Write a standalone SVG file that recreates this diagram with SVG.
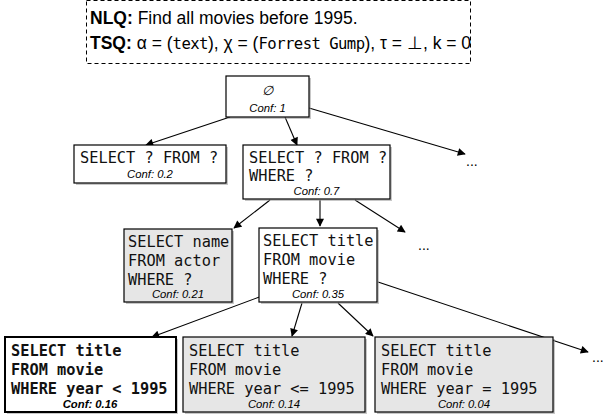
<svg xmlns="http://www.w3.org/2000/svg" width="605" height="417" viewBox="0 0 605 417">
<style>
.hdr{font-family:"Liberation Sans",Arial,sans-serif;font-size:17.5px;fill:#000}
.b{font-weight:bold}
.hm{font-family:"DejaVu Sans Mono",monospace;font-size:15.6px;letter-spacing:-0.55px}
.box{stroke:#000;stroke-width:1.2}
.w{fill:#fff}
.g{fill:#e6e6e6}
.sh{fill:#999;opacity:0.55}
.code{font-family:"DejaVu Sans Mono",monospace;font-size:15.3px;fill:#111}
.bold{font-weight:bold}
.conf{font-family:"Liberation Sans",Arial,sans-serif;font-style:italic;font-size:11.3px;fill:#000;text-anchor:middle}
.dots{font-family:"Liberation Sans",Arial,sans-serif;font-size:14px;fill:#000}
.edge{stroke:#000;stroke-width:1.1;fill:none;marker-end:url(#ah)}
</style>
<defs>
<marker id="ah" viewBox="0 0 10 10" refX="9" refY="5" markerWidth="10" markerHeight="8" markerUnits="userSpaceOnUse" orient="auto">
<path d="M0,0 L10,5 L0,10 z" fill="#000"/>
</marker>
</defs>
<g id="header">
<rect x="86.5" y="0.5" width="384" height="63" fill="#fff" stroke="#000" stroke-width="1" stroke-dasharray="4,3"/>
<text class="hdr" x="90" y="24"><tspan class="b">NLQ:</tspan> Find all movies before 1995.</text>
<text class="hdr" x="90" y="49"><tspan class="b">TSQ:</tspan> α = (<tspan class="hm">text</tspan>), χ = (<tspan class="hm">Forrest Gump</tspan>), τ = ⊥, k = 0</text>
</g>
<g id="connectors">
<line class="edge" x1="230" y1="117" x2="146" y2="145"/>
<line class="edge" x1="285" y1="117" x2="297" y2="145"/>
<line class="edge" x1="309" y1="108" x2="465" y2="154"/>
<line class="edge" x1="270" y1="200" x2="234" y2="228"/>
<line class="edge" x1="320" y1="200" x2="320" y2="226"/>
<line class="edge" x1="355" y1="200" x2="405" y2="232"/>
<line class="edge" x1="262" y1="296" x2="152" y2="337"/>
<line class="edge" x1="302" y1="303" x2="292" y2="336"/>
<line class="edge" x1="338" y1="303" x2="373" y2="336"/>
<line class="edge" x1="378" y1="282" x2="588" y2="352"/>
</g>
<g id="root">
<rect class="sh" x="228" y="78" width="83" height="41"/>
<rect class="box w" x="226" y="76" width="83" height="41"/>
<text x="267.5" y="95" class="conf" style="font-size:13px">∅</text>
<text x="267.5" y="112" class="conf">Conf: 1</text>
</g>
<g id="n1">
<rect class="sh" x="76" y="147" width="152" height="38"/>
<rect class="box w" x="74" y="145" width="152" height="38"/>
<text class="code" x="80" y="163">SELECT ? FROM ?</text>
<text class="conf" x="150" y="178">Conf: 0.2</text>
</g>
<g id="n2">
<rect class="sh" x="245" y="147" width="147" height="54"/>
<rect class="box w" x="243" y="145" width="147" height="54"/>
<text class="code" x="249" y="163">SELECT ? FROM ?</text>
<text class="code" x="249" y="181">WHERE ?</text>
<text class="conf" x="316.5" y="195">Conf: 0.7</text>
</g>
<text class="dots" x="466" y="166">...</text>
<g id="n3">
<rect class="sh" x="126" y="231" width="108" height="73"/>
<rect class="box g" x="124" y="229" width="108" height="73"/>
<text class="code" x="128" y="247">SELECT name</text>
<text class="code" x="128" y="266">FROM actor</text>
<text class="code" x="128" y="285">WHERE ?</text>
<text class="conf" x="178" y="298">Conf: 0.21</text>
</g>
<g id="n4">
<rect class="sh" x="261" y="230" width="118" height="74"/>
<rect class="box w" x="259" y="228" width="118" height="74"/>
<text class="code" x="263" y="246">SELECT title</text>
<text class="code" x="263" y="265">FROM movie</text>
<text class="code" x="263" y="284">WHERE ?</text>
<text class="conf" x="318" y="298">Conf: 0.35</text>
</g>
<text class="dots" x="418" y="250">...</text>
<g id="n5">
<rect class="sh" x="7" y="339" width="171" height="75"/>
<rect class="box w" x="5" y="337" width="171" height="75" style="stroke-width:2"/>
<text class="code bold" x="11" y="356">SELECT title</text>
<text class="code bold" x="11" y="375">FROM movie</text>
<text class="code bold" x="11" y="394">WHERE year &lt; 1995</text>
<text class="conf bold" x="90" y="408">Conf: 0.16</text>
</g>
<g id="n6">
<rect class="sh" x="185" y="339" width="182" height="75"/>
<rect class="box g" x="183" y="337" width="182" height="75"/>
<text class="code" x="189" y="356">SELECT title</text>
<text class="code" x="189" y="375">FROM movie</text>
<text class="code" x="189" y="394">WHERE year &lt;= 1995</text>
<text class="conf" x="274" y="408">Conf: 0.14</text>
</g>
<g id="n7">
<rect class="sh" x="377" y="339" width="178" height="75"/>
<rect class="box g" x="375" y="337" width="178" height="75"/>
<text class="code" x="381" y="356">SELECT title</text>
<text class="code" x="381" y="375">FROM movie</text>
<text class="code" x="381" y="394">WHERE year = 1995</text>
<text class="conf" x="464" y="408">Conf: 0.04</text>
</g>
<text class="dots" x="592" y="362">...</text>
</svg>
